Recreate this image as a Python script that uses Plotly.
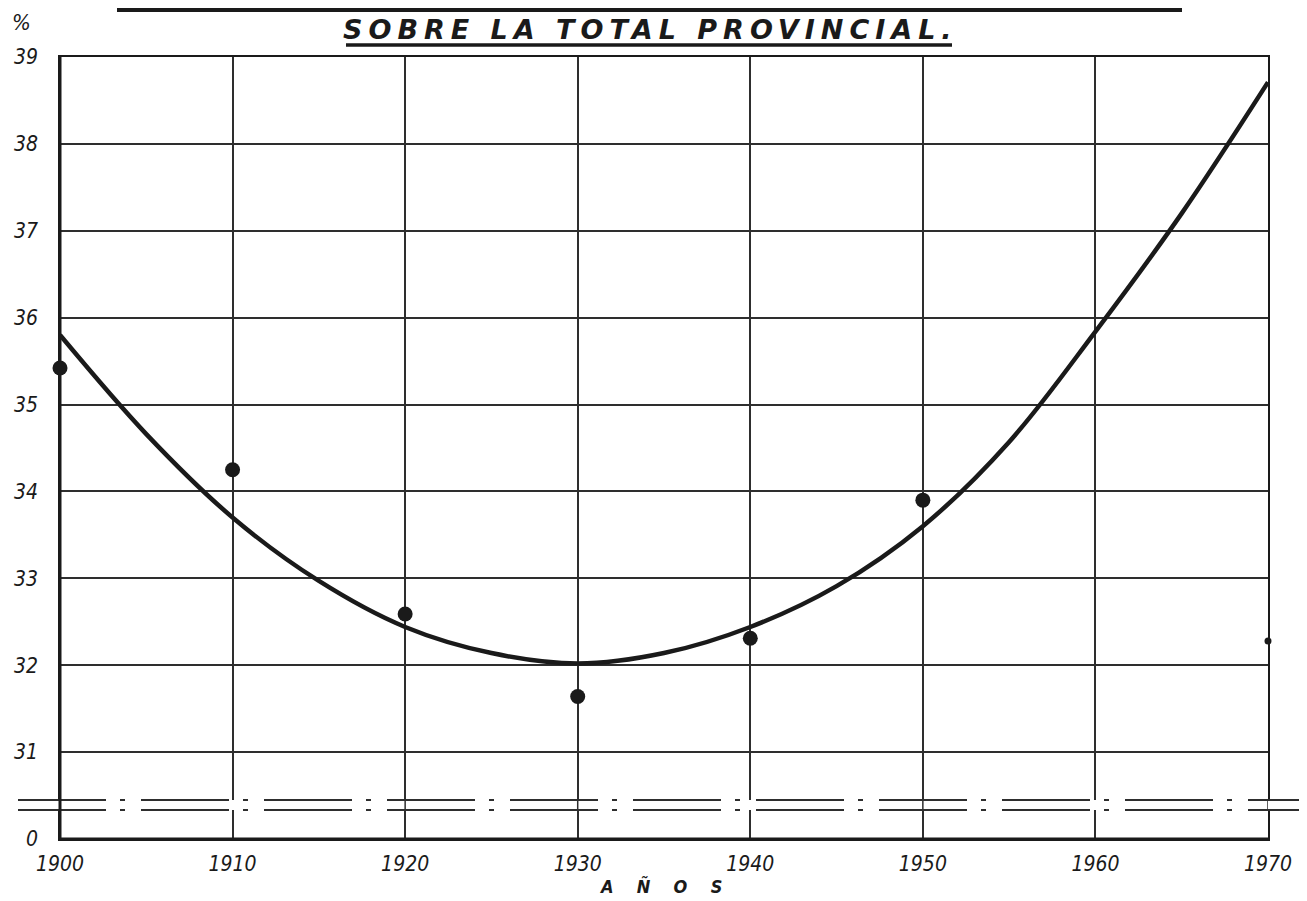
import plotly.graph_objects as go

# observed percentages (dots)
years_obs = [1900, 1910, 1920, 1930, 1940, 1950]
pct_obs = [35.42, 34.25, 32.59, 31.64, 32.31, 33.90]

# small mark on the 1970 line
years_small = [1970]
pct_small = [32.28]

# fitted curve, read every 5 years
curve_years = [1900, 1905, 1910, 1915, 1920, 1925, 1930, 1935,
               1940, 1945, 1950, 1955, 1960, 1965, 1970]
curve_pct = [35.80, 34.66, 33.70, 32.97, 32.44, 32.14, 32.02, 32.14,
             32.44, 32.91, 33.60, 34.57, 35.84, 37.20, 38.71]

x_ticks = [1900, 1910, 1920, 1930, 1940, 1950, 1960, 1970]
x_labels = [str(v) for v in x_ticks]
y_ticks = [30, 31, 32, 33, 34, 35, 36, 37, 38, 39]
y_labels = ["0", "31", "32", "33", "34", "35", "36", "37", "38", "39"]

title_txt = "SOBRE LA TOTAL PROVINCIAL."
x_title = "A  Ñ  O  S"

# page geometry (page pixels); the page body has an 8px margin
W, H, OFF = 1307, 901, 8
ML, MR, MT, MB = 60, 39, 57, 62
PW, PH = W - ML - MR, H - MT - MB


def px_x(px):
    return (px - ML) / PW


def px_y(py):
    return (H - MB - py) / PH


ink = "#1a1a1a"
grid = "#2e2e2e"
fnt = "DejaVu Sans Condensed, DejaVu Sans, sans-serif"

fig = go.Figure()
fig.add_trace(go.Scatter(x=curve_years, y=curve_pct, mode="lines",
                         line=dict(color=ink, width=4.5, shape="spline", smoothing=1.0),
                         hoverinfo="skip"))
fig.add_trace(go.Scatter(x=years_obs, y=pct_obs, mode="markers",
                         marker=dict(size=15, color=ink), cliponaxis=False))
fig.add_trace(go.Scatter(x=years_small, y=pct_small, mode="markers",
                         marker=dict(size=7, color=ink), cliponaxis=False))

# axis break band
brk_lo, brk_hi = 30.335, 30.45
shapes = [
    dict(type="rect", xref="paper", yref="y", x0=-0.01, x1=1.01, y0=brk_lo, y1=brk_hi,
         fillcolor="white", line=dict(width=0), layer="above"),
]
for yr in [1900, 1920, 1930, 1950, 1970]:
    shapes.append(dict(type="line", xref="x", yref="y", x0=yr, x1=yr, y0=brk_lo, y1=brk_hi,
                       line=dict(color=grid, width=1.5), layer="above"))
for yv in [brk_lo, brk_hi]:
    shapes.append(dict(type="line", xref="paper", yref="y", x0=px_x(18), x1=px_x(1307),
                       y0=yv, y1=yv, layer="above",
                       line=dict(color=grid, width=2, dash="88px,14px,5px,16px")))
# heavier left / bottom axis
shapes.append(dict(type="line", xref="paper", yref="paper", x0=0, x1=0, y0=0, y1=1,
                   line=dict(color=ink, width=3), layer="above"))
shapes.append(dict(type="line", xref="paper", yref="paper", x0=0, x1=1, y0=0, y1=0,
                   line=dict(color=ink, width=3), layer="above"))
# title underlines (the upper one belongs to a title line cut off by the page edge)
shapes.append(dict(type="line", xref="paper", yref="paper", x0=px_x(117), x1=px_x(1182),
                   y0=px_y(10), y1=px_y(10), line=dict(color=ink, width=4)))
shapes.append(dict(type="line", xref="paper", yref="paper", x0=px_x(346), x1=px_x(952),
                   y0=px_y(45), y1=px_y(45), line=dict(color=ink, width=3.5)))

annotations = [
    dict(text='<span style="letter-spacing:6px">' + title_txt + "</span>",
         xref="paper", yref="paper", x=px_x(650), y=px_y(29),
         showarrow=False, xanchor="center", yanchor="middle",
         font=dict(family="DejaVu Sans, sans-serif", size=27, color=ink,
                   weight="bold", style="italic")),
    dict(text="%", xref="paper", yref="paper", x=px_x(21), y=px_y(22),
         showarrow=False, xanchor="center", yanchor="middle",
         font=dict(family=fnt, size=22, color=ink, style="italic")),
    dict(text='<span style="letter-spacing:4px">' + x_title + "</span>",
         xref="paper", yref="paper", x=px_x(662), y=px_y(886),
         showarrow=False, xanchor="center", yanchor="middle",
         font=dict(family=fnt, size=18, color=ink, weight="bold", style="italic")),
]

fig.update_layout(
    width=W - OFF, height=H - OFF,
    margin=dict(l=ML - OFF, r=MR, t=MT - OFF, b=MB),
    paper_bgcolor="white", plot_bgcolor="white",
    showlegend=False,
    shapes=shapes,
    annotations=annotations,
    xaxis=dict(range=[1900, 1970], tickvals=x_ticks, ticktext=x_labels,
               automargin=False,
               showgrid=True, gridcolor=grid, gridwidth=1.5, zeroline=False,
               showline=True, mirror=True, linecolor=ink, linewidth=1.5,
               ticks="", ticklabelstandoff=5,
               tickfont=dict(family=fnt, size=21, color=ink, style="italic")),
    yaxis=dict(range=[30.0, 39], tickvals=y_ticks, ticktext=y_labels,
               automargin=False,
               showgrid=True, gridcolor=grid, gridwidth=1.5, zeroline=False,
               showline=True, mirror=True, linecolor=ink, linewidth=1.5,
               ticks="", ticklabelstandoff=16,
               tickfont=dict(family=fnt, size=21, color=ink, style="italic")),
)

fig.write_html("out.html")
